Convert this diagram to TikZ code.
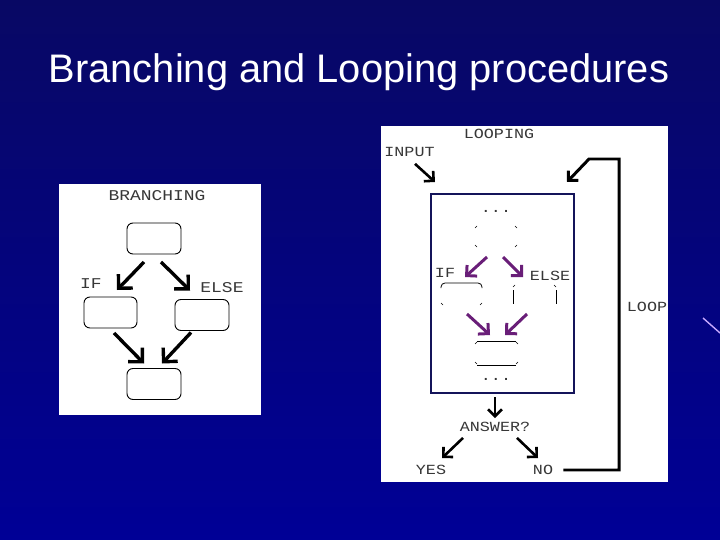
\documentclass[tikz,border=0pt]{standalone}
\usepackage{fontspec}
\setmainfont{Liberation Sans}
\newfontfamily\monof{Liberation Mono}
\usetikzlibrary{arrows.meta,calc}
\definecolor{bgtop}{RGB}{8,8,100}
\definecolor{bgmid}{RGB}{2,2,130}
\definecolor{bgbot}{RGB}{0,0,150}
\definecolor{lbl}{RGB}{55,55,55}
\definecolor{purp}{RGB}{105,30,120}
\definecolor{framec}{RGB}{20,20,90}
\definecolor{stray}{RGB}{200,170,255}
\newcommand\cornmarks[1]{%
  \draw[tick] ($(#1.north west)+(0,3)$) -- ($(#1.north west)+(2,1)$);
  \draw[tick] ($(#1.north east)+(0,3)$) -- ($(#1.north east)+(-2,1)$);
  \draw[tick] ($(#1.south west)+(0,-3)$) -- ($(#1.south west)+(2,-1)$);
  \draw[tick] ($(#1.south east)+(0,-3)$) -- ($(#1.south east)+(-2,-1)$);}
\begin{document}
\begin{tikzpicture}[x=1bp,y=-1bp,
  panel/.style={fill=white,draw=none},
  rbox/.style={draw=black,line width=0.9,rounded corners=6,inner sep=0,outer sep=0,minimum width=54bp,minimum height=31bp},
  ghost/.style={draw=none,inner sep=0,outer sep=0},
  tick/.style={draw=black,line width=0.6},
  thinl/.style={draw=black,line width=0.8},
  mono/.style={text=lbl,inner sep=0,font=\monof\fontsize{14}{14}\selectfont,xscale=1.2},
  bigmono/.style={text=lbl,inner sep=0,font=\monof\fontsize{15}{15}\selectfont,xscale=1.2},
  arr/.style={line width=3.4,line cap=butt,-{Straight Barb[length=10,width=20]}},
  parr/.style={draw=purp,line width=3,line cap=butt,-{Straight Barb[length=7.5,width=15]}},
  sarr/.style={line width=2.6,line cap=butt,-{Straight Barb[length=7,width=14]}}]
\useasboundingbox (0,0) rectangle (720,540);
\shade[top color=bgtop,middle color=bgmid,bottom color=bgbot] (0,0) rectangle (720,540);
\draw[stray,line width=1.4] (703,318) -- (720,333);

% title
\node[white,anchor=base,inner sep=0,font=\fontsize{40}{48}\selectfont] (title) at (359,83) {Branching and Looping procedures};

% ---------- branching panel ----------
\fill[panel] (59,184) rectangle (261,415);
\node[bigmono] (brt) at (157,196) {BRANCHING};
\node[rbox] (bt) at (154,238.5) {};
\node[rbox,minimum width=53bp] (bl) at (110.5,312.5) {};
\node[rbox] (br) at (202,315) {};
\node[rbox] (bb) at (154,384) {};
\node[bigmono] (bif) at (91,284) {IF};
\node[bigmono] (belse) at (222,288) {ELSE};
\draw[arr] ($(bt.south)+(-10,8)$) -- ($(bl.north)+(6.5,-7)$);
\draw[arr] ($(bt.south)+(7,8)$) -- ($(br.north)+(-12,-9)$);
\draw[arr] ($(bl.south)+(3.5,5)$) -- ($(bb.north)+(-10,-5)$);
\draw[arr] ($(br.south)+(-11,2)$) -- ($(bb.north)+(8,-5)$);

% ---------- looping panel ----------
\fill[panel] (381,126) rectangle (668,482);
\node[mono] (loopt) at (499,134) {LOOPING};
\node[mono] (input) at (409.5,152) {INPUT};
\node[draw=framec,line width=1.5,inner sep=0,outer sep=0,minimum width=143bp,minimum height=199bp] (frame) at (502.5,293.5) {};
\node[mono] (dots1) at (496,211) {...};
\node[ghost,minimum width=42bp,minimum height=23bp] (t) at (496,236.5) {};
\node[ghost,minimum width=41bp,minimum height=23bp] (L) at (461.5,294.5) {};
\node[ghost,minimum width=43bp,minimum height=23bp] (R) at (534.5,295.5) {};
\node[ghost,minimum width=43bp,minimum height=24bp] (B) at (496.5,353) {};
\node[mono] (ifin) at (445,273) {IF};
\node[mono] (elsein) at (550,276) {ELSE};
\node[mono] (dots2) at (496,379) {...};
\node[mono] (answer) at (495,427) {ANSWER?};
\node[mono] (yes) at (431,470) {YES};
\node[mono] (no) at (543,470) {NO};
\node[mono] (loopl) at (647,307) {LOOP};
\coordinate (lr) at (619,159);

% partial boxes
\cornmarks{t}
\draw[thinl,rounded corners=4] ($(L.north west)+(0,5)$) -- (L.north west) -- (L.north east) -- ($(L.north east)+(0,5)$);
\draw[tick] ($(L.south west)+(0,-3)$) -- ($(L.south west)+(2,-1)$);
\draw[tick] ($(L.south east)+(0,-3)$) -- ($(L.south east)+(-2,-1)$);
\draw[thinl] ($(R.north west)+(0,6)$) -- ($(R.south west)+(0,-3)$);
\draw[thinl] ($(R.north east)+(0,6)$) -- ($(R.south east)+(0,-3)$);
\draw[tick] ($(R.north west)+(0,3)$) -- ($(R.north west)+(2,1)$);
\draw[tick] ($(R.north east)+(0,3)$) -- ($(R.north east)+(-2,1)$);
\draw[thinl] ($(B.north west)+(2,0)$) -- ($(B.north east)+(-2,0)$);
\draw[thinl] ($(B.south west)+(2,0)$) -- ($(B.south east)+(-2,0)$);
\cornmarks{B}

% arrows
\draw[sarr] ($(input.south)+(5.5,7)$) -- ($(frame.north west)+(4,-12)$);
\draw[line width=3,miter limit=10,-{Straight Barb[length=7,width=14]}] ($(no.east)+(10,0)$) -| (lr) -- ++(-30,0) -- ($(frame.north east)+(-7,-12)$);
\draw[parr] ($(t.south)+(-9,9)$) -- ($(L.north)+(3.5,-6)$);
\draw[parr] ($(t.south)+(7,9)$) -- ($(R.north)+(-11.5,-7)$);
\draw[parr] ($(L.south)+(5.5,8)$) -- ($(B.north)+(-6.5,-6)$);
\draw[parr] ($(R.south)+(-7.5,7)$) -- ($(B.north)+(8.5,-6)$);
\draw[sarr] ($(frame.south)+(-7.5,4)$) -- ($(answer.north)+(0,-4)$);
\draw[sarr] ($(answer.south)+(-32,6)$) -- ($(yes.north)+(11,-7)$);
\draw[sarr] ($(answer.south)+(22,6)$) -- ($(no.north)+(-5,-7)$);
\end{tikzpicture}
\end{document}
